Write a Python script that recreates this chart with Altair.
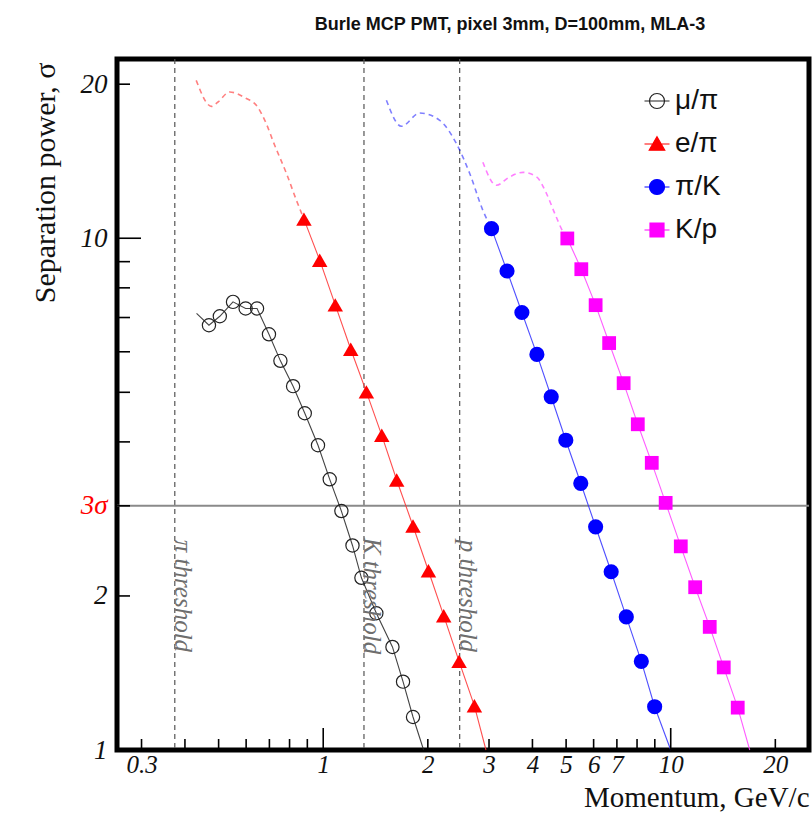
import altair as alt
import pandas as pd

# ---------------- data ----------------
names = ["μ/π", "e/π", "π/K", "K/p"]

mupi_x = [0.469, 0.504, 0.550, 0.598, 0.645, 0.698, 0.753, 0.819, 0.885, 0.966,
          1.044, 1.128, 1.214, 1.288, 1.422, 1.582, 1.697, 1.813]
mupi_y = [6.76, 7.04, 7.51, 7.29, 7.29, 6.49, 5.76, 5.14, 4.55, 3.94,
          3.38, 2.93, 2.51, 2.17, 1.85, 1.59, 1.36, 1.16]
mupi_line_start = ([0.432], [7.13])
mupi_line_end = ([1.945], [1.0])

epi_x = [0.880, 0.977, 1.083, 1.200, 1.331, 1.474, 1.627, 1.813, 2.008, 2.222, 2.46, 2.723]
epi_y = [10.9, 9.06, 7.41, 6.07, 5.01, 4.12, 3.37, 2.74, 2.24, 1.83, 1.49, 1.22]
epi_line_end = ([2.94], [1.0])
epi_dash_x = [0.431, 0.477, 0.498, 0.538, 0.601, 0.642, 0.679, 0.725, 0.784, 0.837, 0.880]
epi_dash_y = [20.35, 18.1, 18.46, 19.31, 18.75, 18.19, 17.0, 15.19, 13.38, 11.87, 10.9]

pik_x = [3.05, 3.38, 3.73, 4.12, 4.53, 4.99, 5.51, 6.08, 6.74, 7.45, 8.23, 8.99]
pik_y = [10.44, 8.63, 7.16, 5.93, 4.90, 4.03, 3.32, 2.73, 2.23, 1.82, 1.49, 1.215]
pik_line_end = ([10.0], [1.0])
pik_dash_x = [1.52, 1.679, 1.895, 2.164, 2.417, 2.64, 2.88, 3.05]
pik_dash_y = [18.6, 16.55, 17.57, 17.0, 15.31, 13.38, 11.34, 10.44]

kp_x = [5.04, 5.53, 6.08, 6.65, 7.32, 8.04, 8.82, 9.67, 10.69, 11.76, 12.95, 14.21, 15.59]
kp_y = [9.99, 8.70, 7.40, 6.24, 5.21, 4.33, 3.64, 3.04, 2.50, 2.08, 1.74, 1.45, 1.21]
kp_line_end = ([16.88], [1.0])
kp_dash_x = [2.88, 3.15, 3.44, 3.76, 4.11, 4.39, 4.64, 4.90, 5.04]
kp_dash_y = [14.08, 12.69, 13.18, 13.45, 13.18, 12.23, 11.17, 10.29, 9.99]

thr_x = [0.374, 1.31, 2.47]
thr_labels = ["π threshold", "K threshold", "p threshold"]
thr_label_y = [2.0, 2.0, 2.0]

sigma_line = [3]

x_label_values = [0.3, 1, 2, 3, 4, 5, 6, 7, 10, 20]
y_label_values = [1, 2, 3, 10, 20]
x_minor_ticks = [0.3, 0.4, 0.5, 0.6, 0.7, 0.8, 0.9, 2, 3, 4, 5, 6, 7, 8, 9, 20]
x_major_ticks = [1, 10]
y_minor_ticks = [2, 3, 4, 5, 6, 7, 8, 9, 20]
y_major_ticks = [10]

# ---------------- layout / style ----------------
W, H = 692, 691
xscale = alt.Scale(type="log", domain=[0.255, 25], nice=False)
yscale = alt.Scale(type="log", domain=[1, 22.4], nice=False)
SERIF = "Liberation Serif"
SANS = "Liberation Sans"

xaxis = alt.Axis(values=x_label_values, labelExpr="format(datum.value, '~g')",
                 ticks=False, tickSize=0, domain=False, grid=False,
                 labelFont=SERIF, labelFontStyle="italic", labelFontSize=25,
                 labelColor="#111111", labelPadding=2, labelFlush=False, labelOverlap=False,
                 title="Momentum, GeV/c", titleFont=SERIF, titleFontSize=29,
                 titleFontWeight="normal", titleColor="#111111",
                 titleAnchor="end", titleAlign="right", titleBaseline="alphabetic",
                 titleX=W, titleY=56)
yaxis = alt.Axis(values=y_label_values,
                 labelExpr="datum.value == 3 ? '3σ' : format(datum.value, '~g')",
                 labelColor={"condition": {"test": "datum.value == 3", "value": "#ff0000"},
                             "value": "#111111"},
                 ticks=False, tickSize=0, domain=False, grid=False,
                 labelFont=SERIF, labelFontStyle="italic", labelFontSize=27,
                 labelPadding=10, labelFlush=False, labelOverlap=False,
                 title="Separation power, σ", titleFont=SERIF, titleFontSize=30,
                 titleFontWeight="normal", titleColor="#111111",
                 titleAngle=270, titleAlign="right", titleBaseline="middle",
                 titleX=-72, titleY=3)


def X(field="x:Q"):
    return alt.X(field, scale=xscale, axis=xaxis)


def Y(field="y:Q"):
    return alt.Y(field, scale=yscale, axis=yaxis)


def line_df(xs, ys):
    return pd.DataFrame({"x": xs, "y": ys, "i": range(len(xs))})


def enc_xy(ch):
    return ch.encode(x=X(), y=Y(), order="i:Q")


layers = []

# threshold dashed lines
layers.append(alt.Chart(pd.DataFrame({"x": thr_x})).mark_rule(
    color="#555555", strokeWidth=1.2, strokeDash=[5, 4]).encode(x=X()))

# 3 sigma line
layers.append(alt.Chart(pd.DataFrame({"y": sigma_line})).mark_rule(
    color="#8a8a8a", strokeWidth=2).encode(y=Y()))

# dashed continuations
for xs, ys, c in [(epi_dash_x, epi_dash_y, "#ff0000"),
                  (pik_dash_x, pik_dash_y, "#0000ff"),
                  (kp_dash_x, kp_dash_y, "#ff00ff")]:
    layers.append(enc_xy(alt.Chart(line_df(xs, ys)).mark_line(
        color=c, strokeWidth=1.6, strokeDash=[5, 4], opacity=0.5, interpolate="monotone")))

# solid lines through points
solid = [
    (mupi_line_start[0] + mupi_x + mupi_line_end[0], mupi_line_start[1] + mupi_y + mupi_line_end[1], "#222222"),
    (epi_x + epi_line_end[0], epi_y + epi_line_end[1], "#ff3030"),
    (pik_x + pik_line_end[0], pik_y + pik_line_end[1], "#3030ff"),
    (kp_x + kp_line_end[0], kp_y + kp_line_end[1], "#ff40ff"),
]
for xs, ys, c in solid:
    layers.append(enc_xy(alt.Chart(line_df(xs, ys)).mark_line(
        color=c, strokeWidth=1.1, opacity=0.85)))

# points
layers.append(enc_xy(alt.Chart(line_df(mupi_x, mupi_y)).mark_point(
    shape="circle", filled=False, stroke="#222222", strokeWidth=1.2, size=175, opacity=1)))
layers.append(enc_xy(alt.Chart(line_df(epi_x, epi_y)).mark_point(
    shape="triangle-up", filled=True, color="#ff0000", size=240, opacity=1)))
layers.append(enc_xy(alt.Chart(line_df(pik_x, pik_y)).mark_point(
    shape="circle", filled=True, color="#0000ff", size=230, opacity=1)))
layers.append(enc_xy(alt.Chart(line_df(kp_x, kp_y)).mark_point(
    shape="square", filled=True, color="#ff00ff", size=190, opacity=1)))

# threshold labels
layers.append(alt.Chart(pd.DataFrame({"x": thr_x, "y": thr_label_y, "t": thr_labels})).mark_text(
    angle=90, align="center", baseline="alphabetic", font=SERIF, fontStyle="italic",
    fontSize=25, color="#6e6e6e").encode(x=X(), y=Y(), text="t:N"))

# inward ticks
layers.append(alt.Chart(pd.DataFrame({"x": x_minor_ticks})).mark_rule(color="#000", strokeWidth=1.6).encode(
    x=X(), y=alt.value(H), y2=alt.value(H - 11)))
layers.append(alt.Chart(pd.DataFrame({"x": x_major_ticks})).mark_rule(color="#000", strokeWidth=1.6).encode(
    x=X(), y=alt.value(H), y2=alt.value(H - 22)))
layers.append(alt.Chart(pd.DataFrame({"y": y_minor_ticks})).mark_rule(color="#000", strokeWidth=1.6).encode(
    y=Y(), x=alt.value(0), x2=alt.value(13)))
layers.append(alt.Chart(pd.DataFrame({"y": y_major_ticks})).mark_rule(color="#000", strokeWidth=1.6).encode(
    y=Y(), x=alt.value(0), x2=alt.value(24)))

# legend layer (symbols: marker with a line through it)
leg_paths = [
    "M-1,0L1,0M0.6,0A0.6,0.6,0,1,1,-0.6,0A0.6,0.6,0,1,1,0.6,0Z",
    "M-1,0L1,0M0,-0.58L0.62,0.5L-0.62,0.5Z",
    "M-1,0L1,0M0.6,0A0.6,0.6,0,1,1,-0.6,0A0.6,0.6,0,1,1,0.6,0Z",
    "M-1,0L1,0M-0.56,-0.56L0.56,-0.56L0.56,0.56L-0.56,0.56Z",
]
leg_fill = ["transparent", "#ff0000", "#0000ff", "#ff00ff"]
leg_stroke = ["#222222", "#ff0000", "#0000ff", "#ff00ff"]
leg = alt.Legend(title=None, orient="none", legendX=526, legendY=28, padding=0,
                 symbolSize=625, symbolStrokeWidth=1.2, labelFont=SANS, labelFontSize=28,
                 labelColor="#111111", labelOffset=4, rowPadding=15, labelLimit=200)
leg_df = pd.DataFrame({"x": [1.0] * 4, "y": [1.0] * 4, "series": names})
layers.append(alt.Chart(leg_df).transform_filter("datum.x < 0").mark_point(
    filled=True, opacity=1, strokeWidth=1.2).encode(
    x=X(), y=Y(),
    shape=alt.Shape("series:N", scale=alt.Scale(domain=names, range=leg_paths), legend=leg),
    fill=alt.Fill("series:N", scale=alt.Scale(domain=names, range=leg_fill), legend=leg),
    stroke=alt.Stroke("series:N", scale=alt.Scale(domain=names, range=leg_stroke), legend=leg)))

chart = alt.layer(*layers).properties(
    width=W, height=H,
    autosize=alt.AutoSizeParams(type="none"),
    padding={"left": 117, "top": 59, "right": 3, "bottom": 63},
    background="white",
    title=alt.TitleParams("Burle MCP PMT, pixel 3mm, D=100mm, MLA-3",
                          font=SANS, fontWeight="bold",
                          fontSize=18, color="#111111", anchor="middle", dx=47,
                          baseline="alphabetic", offset=10),
).configure_view(stroke="#000000", strokeWidth=5)

chart.save("out.html", embed_options={"renderer": "svg", "actions": False})
